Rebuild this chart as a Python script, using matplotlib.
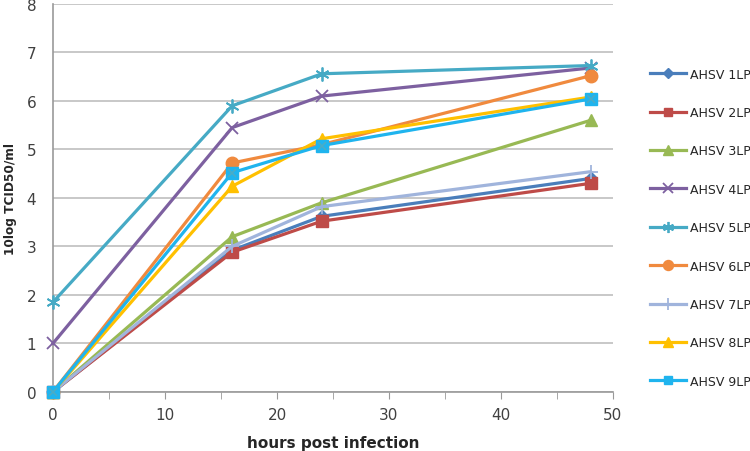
import matplotlib
matplotlib.use("Agg")
import matplotlib.pyplot as plt

hours = [0, 16, 24, 48]
names = ["AHSV 1LP", "AHSV 2LP", "AHSV 3LP", "AHSV 4LP", "AHSV 5LP",
         "AHSV 6LP", "AHSV 7LP", "AHSV 8LP", "AHSV 9LP"]
ahsv1 = [0, 2.92, 3.62, 4.40]
ahsv2 = [0, 2.88, 3.52, 4.30]
ahsv3 = [0, 3.20, 3.90, 5.60]
ahsv4 = [1.0, 5.45, 6.10, 6.68]
ahsv5 = [1.85, 5.90, 6.56, 6.73]
ahsv6 = [0, 4.72, 5.10, 6.52]
ahsv7 = [0, 3.00, 3.82, 4.54]
ahsv8 = [0, 4.24, 5.22, 6.08]
ahsv9 = [0, 4.52, 5.08, 6.04]
series = [ahsv1, ahsv2, ahsv3, ahsv4, ahsv5, ahsv6, ahsv7, ahsv8, ahsv9]

colors = ["#4A7EBB", "#BE4B48", "#98B954", "#7D60A0", "#46AAC5",
          "#F08A3E", "#A0B4DC", "#FFC000", "#1FB4EE"]
markers = ["D", "s", "^", "x", (6, 2, 0), "o", "+", "^", "s"]
msizes = [6, 8, 9, 9, 10, 9, 10, 9, 8]

fig = plt.figure(figsize=(7.5, 4.52), dpi=100)
ax = fig.add_axes([0.0707, 0.131, 0.7466, 0.858])

handles = []
for i, (vals, name) in enumerate(zip(series, names)):
    thin = markers[i] in ("x", "+") or isinstance(markers[i], tuple)
    line, = ax.plot(hours, vals, color=colors[i], lw=2.3, marker=markers[i],
                    markersize=msizes[i], markeredgewidth=1.3 if thin else 1,
                    markeredgecolor=colors[i], markerfacecolor=colors[i], label=name,
                    clip_on=False, zorder=3 + i * 0.01)
    handles.append(line)
    if i == 8:
        ax.plot(hours, vals, ls="none", marker="x", markersize=6, markeredgecolor="#4BACC6",
                markeredgewidth=1.2, clip_on=False, zorder=3.2)

ax.set_xlim(0, 50)
ax.set_ylim(0, 8)
ax.set_yticks(range(0, 9))
ax.set_xticks(range(0, 51, 10))
ax.set_xticks(range(0, 51, 5), minor=True)
ax.grid(axis="y", color="#BFBFBF", lw=1.2)
ax.set_axisbelow(True)
for s in ["top", "right"]:
    ax.spines[s].set_visible(False)
for s in ["left", "bottom"]:
    ax.spines[s].set_color("#999999")
    ax.spines[s].set_linewidth(1.2)
ax.tick_params(axis="y", length=0, labelsize=11, labelcolor="#404040", pad=12)
ax.tick_params(axis="x", which="both", length=5, color="#999999", direction="out",
               labelsize=11, labelcolor="#404040", pad=6)

ax.set_xlabel("hours post infection", fontsize=11, fontweight="bold", color="#262626", labelpad=9)
ax.set_ylabel("10log TCID50/ml", fontsize=8.7, fontweight="bold", color="#262626")
ax.yaxis.set_label_coords(-0.064, 0.5)

leg = fig.legend(handles=handles, loc="upper left", bbox_to_anchor=(0.866, 0.848), frameon=False,
                 prop={"size": 9}, labelspacing=2.03, handlelength=2.9, handletextpad=0.3,
                 borderaxespad=0, borderpad=0, markerscale=0.8)
for t in leg.get_texts():
    t.set_color("#262626")

fig.savefig("out.png", dpi=100)
